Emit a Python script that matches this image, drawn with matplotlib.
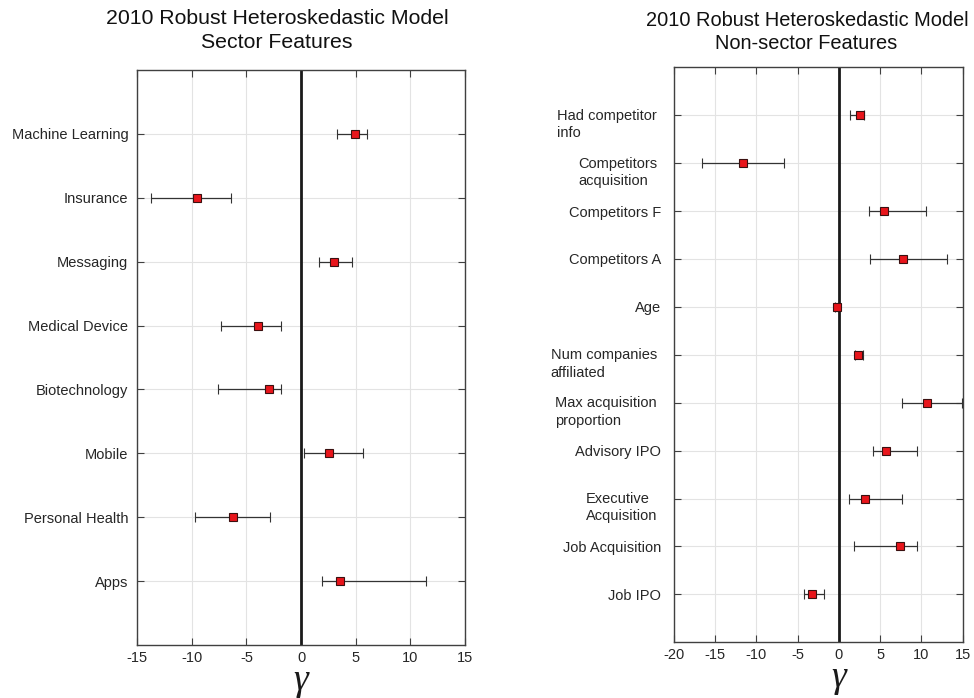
import numpy as np
import matplotlib.pyplot as plt
import matplotlib.transforms as mtransforms

plt.rcParams["font.family"] = ["Liberation Sans", "DejaVu Sans"]

# Sector features (listed bottom to top)
sector_labels = ["Apps", "Personal Health", "Mobile", "Biotechnology",
                 "Medical Device", "Messaging", "Insurance", "Machine Learning"]
sector_gamma = [3.6, -6.25, 2.6, -2.95, -3.9, 3.0, -9.55, 4.9]
sector_low = [1.95, -9.7, 0.3, -7.6, -7.3, 1.6, -13.7, 3.25]
sector_high = [11.45, -2.85, 5.65, -1.8, -1.8, 4.65, -6.4, 6.05]

# Non-sector features (listed bottom to top)
nonsector_labels = ["Job IPO", "Job Acquisition", "Executive\nAcquisition",
                    "Advisory IPO", "Max acquisition\nproportion",
                    "Num companies\naffiliated", "Age", "Competitors A",
                    "Competitors F", "Competitors\nacquisition",
                    "Had competitor\ninfo"]
nonsector_gamma = [-3.3, 7.35, 3.15, 5.7, 10.65, 2.3, -0.3, 7.75, 5.4, -11.65, 2.5]
nonsector_low = [-4.2, 1.8, 1.2, 4.1, 7.65, 1.9, -0.5, 3.75, 3.7, -16.65, 1.3]
nonsector_high = [-1.8, 9.45, 7.65, 9.5, 14.9, 2.9, -0.1, 13.05, 10.6, -6.7, 3.05]

fig = plt.figure(figsize=(9.74, 6.98), dpi=100)

ax1 = fig.add_axes([0.1407, 0.0759, 0.3368, 0.8238])
ax2 = fig.add_axes([0.692, 0.0798, 0.2964, 0.8238])


def draw_panel(ax, labels, gamma, low, high, xlim, xticks, pad, pad_multi):
    n = len(labels)
    pos = np.arange(1, n + 1)
    gamma = np.array(gamma)
    err = [gamma - np.array(low), np.array(high) - gamma]

    ax.grid(True, color="#e3e3e3", linewidth=0.8, zorder=0)
    ax.set_axisbelow(True)
    ax.axvline(0, color="#1a1a1a", linewidth=2, zorder=2)
    ax.errorbar(gamma, pos, xerr=err, fmt="s", color="#333333",
                ecolor="#333333", elinewidth=0.9, capsize=3.5, capthick=0.9,
                markersize=5.5, markerfacecolor="#e8151b",
                markeredgecolor="#3a1010", markeredgewidth=0.8, zorder=3)

    ax.set_xlim(*xlim)
    ax.set_ylim(0, n + 1)
    ax.set_xticks(xticks)
    ax.set_xticklabels([str(t) for t in xticks])
    ax.set_yticks(pos)
    ax.set_yticklabels([])

    # category labels: first line sits on the tick, extra lines hang below
    ytrans = mtransforms.blended_transform_factory(ax.transAxes, ax.transData)
    for p, lab in zip(pos, labels):
        if "\n" in lab:
            off = mtransforms.ScaledTranslation(-pad_multi / 72, 4.6 / 72,
                                                fig.dpi_scale_trans)
            ax.text(0, p, lab, transform=ytrans + off, ha="right", va="top",
                    multialignment="left", fontsize=10.5, color="#262626",
                    linespacing=1.3)
        else:
            off = mtransforms.ScaledTranslation(-pad / 72, 0,
                                                fig.dpi_scale_trans)
            ax.text(0, p, lab, transform=ytrans + off, ha="right",
                    va="center_baseline", fontsize=10.5, color="#262626")

    ax.tick_params(direction="in", top=True, right=True, length=5,
                   width=0.8, color="#404040", labelsize=10.5,
                   labelcolor="#262626")
    ax.tick_params(axis="x", pad=4)
    for s in ax.spines.values():
        s.set_color("#404040")
        s.set_linewidth(1.0)

    trans = mtransforms.blended_transform_factory(ax.transData, ax.transAxes)
    ax.text(0, -0.062, "\u03b3", transform=trans, ha="center", va="center",
            fontsize=27, family=["Liberation Serif"], style="italic",
            color="#1a1a1a")


draw_panel(ax1, sector_labels, sector_gamma, sector_low, sector_high,
           (-15, 15), [-15, -10, -5, 0, 5, 10, 15], 6.3, 6.3)
draw_panel(ax2, nonsector_labels, nonsector_gamma, nonsector_low,
           nonsector_high, (-20, 15), [-20, -15, -10, -5, 0, 5, 10, 15],
           9.3, 12.2)

fig.text(277 / 974, 1 - 18 / 698, "2010 Robust Heteroskedastic Model",
         ha="center", va="center", fontsize=15.3, color="#111111")
fig.text(277 / 974, 1 - 43 / 698, "Sector Features",
         ha="center", va="center", fontsize=15.3, color="#111111")
fig.text(807 / 974, 1 - 20.5 / 698, "2010 Robust Heteroskedastic Model",
         ha="center", va="center", fontsize=14.4, color="#111111")
fig.text(806 / 974, 1 - 43.5 / 698, "Non-sector Features",
         ha="center", va="center", fontsize=14.4, color="#111111")

fig.savefig("out.png", dpi=100)
